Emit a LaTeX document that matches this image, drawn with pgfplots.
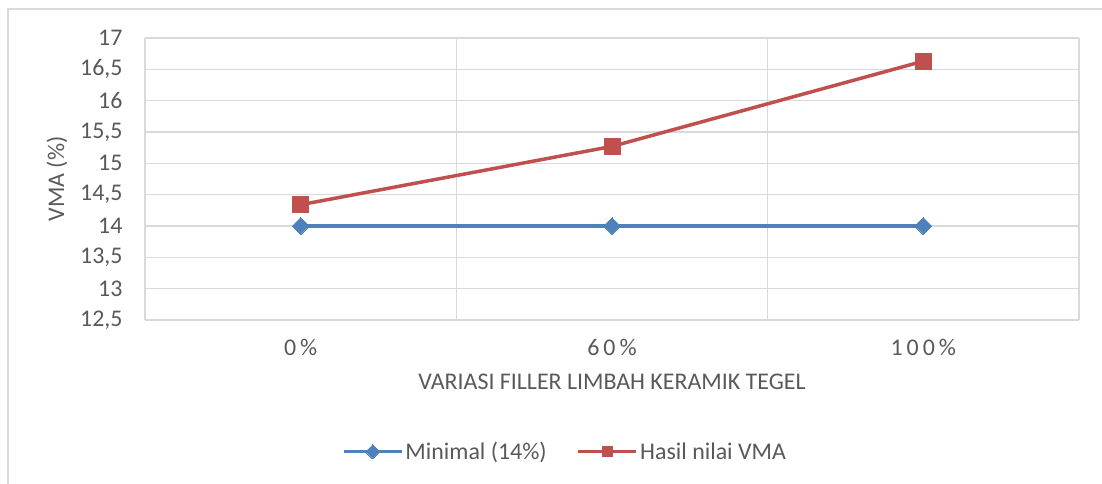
\documentclass[border=0pt]{standalone}
\usepackage{pgfplots}
\pgfplotsset{compat=1.18}
\usepackage{fontspec}
\setmainfont{Carlito}
\definecolor{gridgray}{RGB}{217,217,217}
\definecolor{txtgray}{RGB}{89,89,89}
\definecolor{blueS}{RGB}{79,129,189}
\definecolor{redS}{RGB}{192,80,77}
\begin{document}
\begin{tikzpicture}
\begin{axis}[
  scale only axis,
  width=934bp, height=282bp,
  xmin=-0.5, xmax=2.5,
  ymin=12.5, ymax=17,
  ytick={12.5,13,...,17},
  xtick={0,1,2},
  xticklabels={0\,\%,6\,0\,\%,1\,0\,0\,\%},
  minor xtick={-0.5,0.5,1.5,2.5},
  xminorgrids=true, ymajorgrids=true,
  grid style={gridgray, line width=1.5bp},
  minor grid style={gridgray, line width=1.5bp},
  axis line style={draw=none},
  major tick length=0, minor tick length=0,
  tick label style={font=\fontsize{24}{28}\selectfont, text=txtgray},
  /pgf/number format/assume math mode=true,
  /pgf/number format/use comma,
  /pgf/number format/1000 sep={},
  yticklabel style={xshift=-19bp},
  xticklabel style={yshift=-16bp},
  xlabel={VARIASI FILLER LIMBAH KERAMIK TEGEL},
  ylabel={VMA (\%)},
  label style={font=\fontsize{24}{28}\selectfont, text=txtgray},
  xlabel style={yshift=-11bp},
  ylabel style={yshift=6bp},
  legend style={at={(0.5,0)}, yshift=-118bp, xshift=-47bp, anchor=north, draw=none,
    legend columns=2, font=\fontsize{24}{28}\selectfont, text=txtgray,
    /tikz/every even column/.append style={column sep=28bp}},
  legend image code/.code={\draw[mark repeat=2,mark phase=2,#1,mark size=5bp] plot coordinates {(0bp,0bp)(29bp,0bp)(58bp,0bp)};},
  legend cell align=left,
  clip=false,
]
\addplot[blueS, line width=3.5bp, mark=square*, mark size=6bp, mark options={fill=blueS, draw=blueS, line width=0pt, rotate=45}]
  coordinates {(0,14) (1,14) (2,14)};
\addlegendentry{Minimal (14\%)}
\addplot[redS, line width=3.5bp, mark=square*, mark size=8bp, mark options={fill=redS, draw=redS, line width=0pt}]
  coordinates {(0,14.34) (1,15.27) (2,16.63)};
\addlegendentry{Hasil nilai VMA}
\coordinate (sw) at (rel axis cs:0,0);
\coordinate (ne) at (rel axis cs:1,1);
\end{axis}
\useasboundingbox ([shift={(-145bp,-164bp)}]sw) rectangle ([shift={(23bp,38bp)}]ne);
\draw[gridgray, line width=1.5bp] ([shift={(-137bp,-170bp)}]sw) -- ([shift={(-137bp,29bp)}]sw|-ne) -- ([shift={(30bp,29bp)}]ne);
\end{tikzpicture}
\end{document}
